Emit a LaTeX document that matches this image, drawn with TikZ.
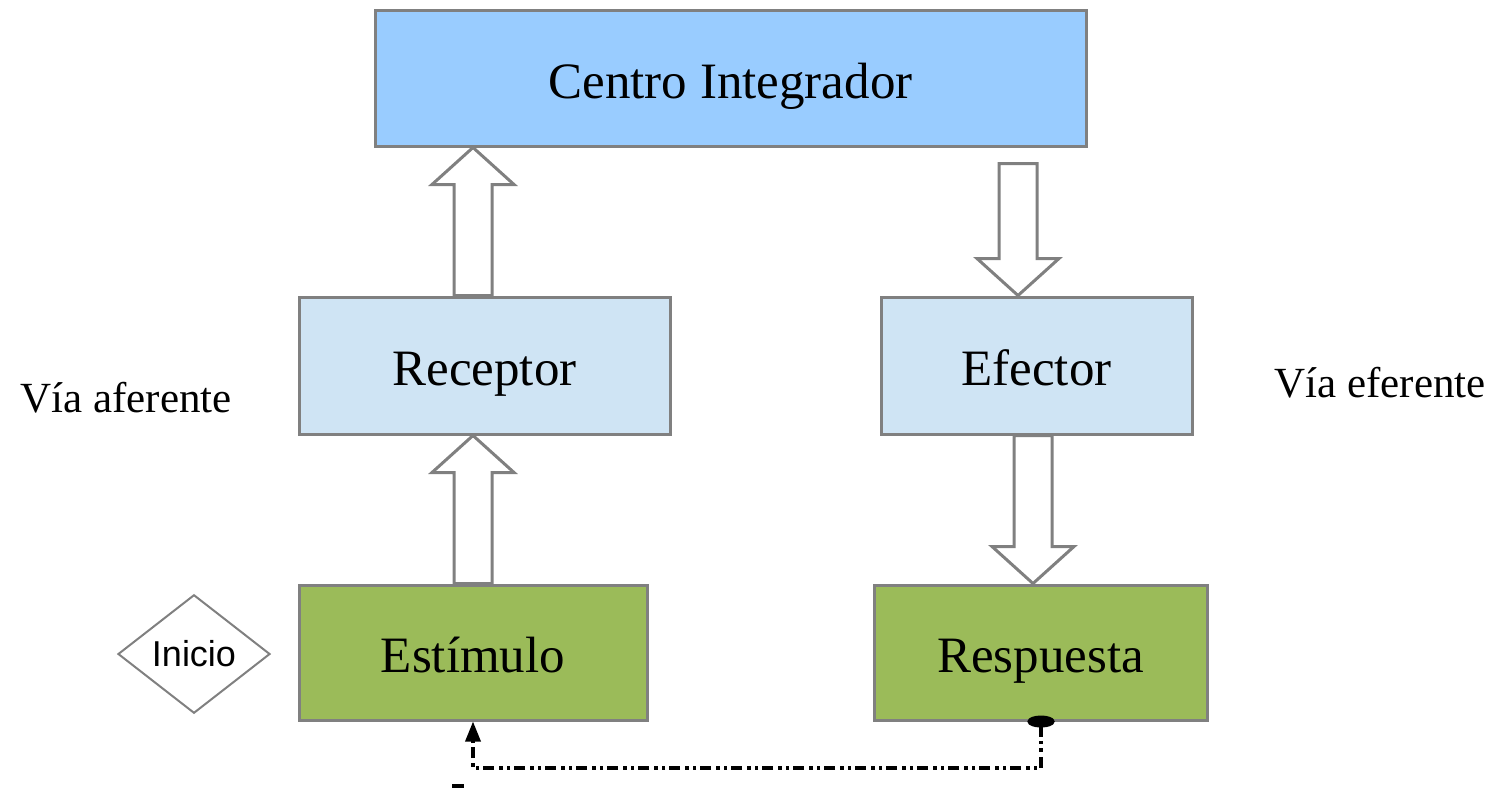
\documentclass[tikz,border=0pt]{standalone}
\usepackage{fontspec}
\setmainfont{Liberation Serif}
\newfontfamily\inifont{Liberation Sans}
\usepackage{tikz}
\usetikzlibrary{arrows.meta,shapes.geometric,calc}

\definecolor{boxgray}{RGB}{128,128,128}
\definecolor{centroblue}{RGB}{153,204,255}
\definecolor{paleblue}{RGB}{207,228,244}
\definecolor{leafgreen}{RGB}{155,187,89}

\tikzset{
  box/.style={draw=boxgray, line width=1.5pt, inner sep=0pt,
    text height=20pt, text depth=0pt,
    font=\fontsize{25.5}{30}\selectfont},
  hollow/.style={draw=boxgray, fill=white, line width=1.5pt, line join=miter},
  feedback/.style={line width=1.7pt,
    dash pattern=on 5.5pt off 2pt on 1.75pt off 2pt on 1.75pt off 2.5pt}
}

% hollow block arrow from #1 (base of shaft) to #2 (tip)
\newcommand{\blockarrow}[2]{%
  \draw[hollow] let \p1=(#1), \p2=(#2), \n1={ifthenelse(\y2>\y1,-18.5,18.5)} in
    ({\x1-9.5pt},\y1) -- ({\x1-9.5pt},{\y2+(\n1)*1pt}) -- ({\x1-20.5pt},{\y2+(\n1)*1pt})
    -- (\x2,\y2) -- ({\x1+20.5pt},{\y2+(\n1)*1pt}) -- ({\x1+9.5pt},{\y2+(\n1)*1pt})
    -- ({\x1+9.5pt},\y1) -- cycle;}

\begin{document}
\begin{tikzpicture}[x=0.5pt,y=-0.5pt]
\useasboundingbox (0,0) rectangle (1497,788);

\node[box, fill=centroblue, minimum width=355.5pt, minimum height=68pt] (cen) at (730.5,78)
{Centro Integrador};

\node[box, fill=paleblue, minimum width=185.5pt, minimum height=68.5pt] (rec) at (484.5,365.5)
{Receptor};

\node[box, fill=paleblue, minimum width=155.5pt, minimum height=68.5pt] (eff) at (1036.5,365.5)
{Efector};

\node[box, fill=leafgreen, minimum width=174pt, minimum height=67.5pt] (est) at (473,652.5)
{Estímulo};

\node[box, fill=leafgreen, minimum width=166.5pt, minimum height=67.5pt] (res) at (1040.5,652.5)
{Respuesta};

\node[draw=boxgray, line width=1pt, diamond, minimum width=76pt, minimum height=54pt,
  inner sep=1pt, font=\inifont\fontsize{18}{20}\selectfont] (ini) at (194,654)
{Inicio};

\node[font=\fontsize{21.5}{26}\selectfont] (afe) at (126,398) {Vía aferente};
\node[font=\fontsize{21.5}{26}\selectfont] (efe) at (1380,383) {Vía eferente};

\blockarrow{rec.north -| 473,0}{cen.south -| 473,0}
\blockarrow{est.north -| 473,0}{rec.south -| 473,0}
\blockarrow{$(cen.south -| 1018,0)+(0,16)$}{eff.north -| 1018,0}
\blockarrow{eff.south -| 1033,0}{res.north -| 1033,0}

\draw[feedback, {Ellipse[length=6pt,width=13.5pt]}-{Triangle[length=10pt,width=7.5pt]}]
  ($(res.south -| 1041,0)+(0,-6)$) -- (1041,768) -| (est.south -| 473,0);

\fill (452,784) rectangle (464,788);
\end{tikzpicture}
\end{document}
